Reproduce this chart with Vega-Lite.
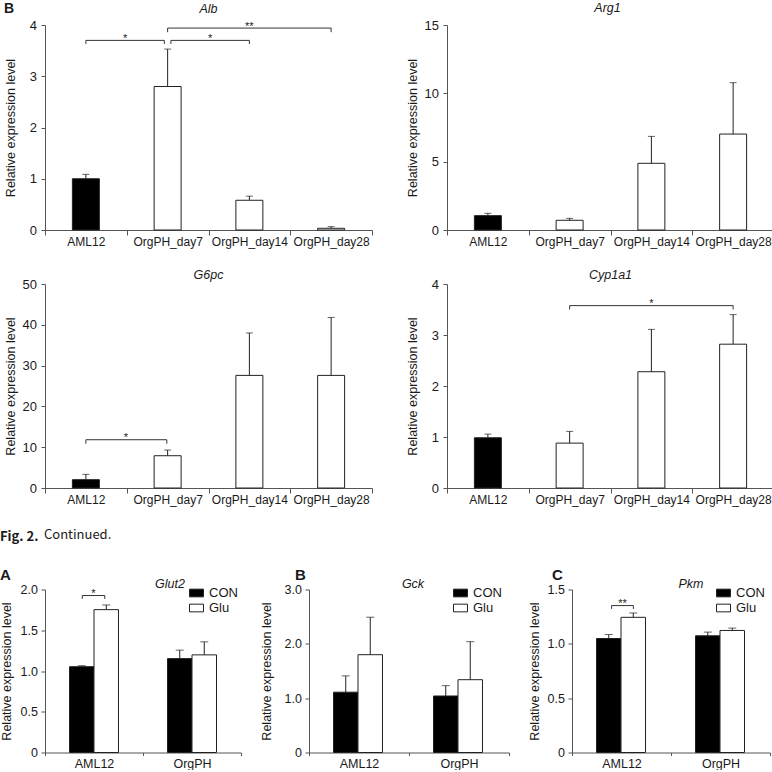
{
  "$schema": "https://vega.github.io/schema/vega-lite/v6.json",
  "padding": {"left": 0, "top": 2, "right": 0, "bottom": 0},
  "background": "white",
  "config": {
    "view": {"stroke": null},
    "font": "Liberation Sans",
    "axis": {"domainColor": "#555", "tickColor": "#555", "labelColor": "#1a1a1a", "titleColor": "#1a1a1a", "labelFont": "Liberation Sans", "titleFont": "Liberation Sans", "grid": false, "titleFontWeight": "normal", "domainWidth": 1, "tickWidth": 1},
    "axisX": {"labelFontSize": 12, "tickSize": 5, "labelPadding": 1, "labelAngle": 0},
    "axisY": {"labelFontSize": 13, "tickSize": 4, "labelPadding": 4.5, "titleFontSize": 12.5},
    "title": {"font": "Liberation Sans", "fontStyle": "italic", "fontWeight": "normal", "fontSize": 12.5, "color": "#1a1a1a", "baseline": "alphabetic"},
    "legend": {"symbolStrokeColor": "#222", "symbolStrokeWidth": 1, "labelFontSize": 13, "labelFont": "Liberation Sans", "labelColor": "#1a1a1a", "rowPadding": -3, "labelOffset": 5}
  },
  "columns": 1,
  "align": "none",
  "spacing": 23.5,
  "resolve": {"scale": {"fill": "independent"}},
  "concat": [
    {
      "spacing": 22,
      "vconcat": [
        {
          "spacing": 33,
          "hconcat": [
            {
              "title": {"text": "B", "fontStyle": "normal", "fontWeight": "bold", "fontSize": 14, "anchor": "start", "frame": "bounds", "offset": -13.6},
              "hconcat": [
                {
                  "width": 327, "height": 205,
                  "title": {"text": "Alb", "offset": 4, "anchor": "middle", "frame": "group"},
                  "resolve": {"scale": {"x": "independent"}},
                  "layer": [
                    {
                      "data": {"values": [
                        {"g": "AML12", "v": 1.0, "e": 1.086},
                        {"g": "OrgPH_day7", "v": 2.8, "e": 3.53},
                        {"g": "OrgPH_day14", "v": 0.58, "e": 0.66},
                        {"g": "OrgPH_day28", "v": 0.033, "e": 0.065}
                      ]},
                      "layer": [
                        {"mark": {"type": "bar", "width": {"band": 0.33}, "stroke": "#222", "strokeWidth": 1},
                         "encoding": {
                           "x": {"field": "g", "type": "nominal", "sort": null, "scale": {"paddingInner": 0, "paddingOuter": 0}, "axis": {"title": null, "tickBand": "extent"}},
                           "y": {"field": "v", "type": "quantitative", "scale": {"domain": [0, 4], "nice": false}, "axis": {"title": "Relative expression level", "values": [0, 1, 2, 3, 4], "format": "d", "titleX": -28}},
                           "fill": {"condition": {"test": "datum.g === 'AML12'", "value": "#000000"}, "value": "#ffffff"}
                         }},
                        {"mark": {"type": "rule", "color": "#222"},
                         "encoding": {"x": {"field": "g", "type": "nominal", "sort": null}, "y": {"field": "v", "type": "quantitative"}, "y2": {"field": "e"}}},
                        {"mark": {"type": "tick", "color": "#222", "thickness": 1, "size": 7},
                         "encoding": {"x": {"field": "g", "type": "nominal", "sort": null}, "y": {"field": "e", "type": "quantitative"}}}
                      ]
                    },
                    {
                      "data": {"values": [
                        {"x1": 0.5, "x2": 1.46, "y": 3.7, "lo": 3.63, "mx": 0.98, "s": "*"},
                        {"x1": 1.54, "x2": 2.5, "y": 3.7, "lo": 3.63, "mx": 2.02, "s": "*"},
                        {"x1": 1.5, "x2": 3.5, "y": 3.94, "lo": 3.86, "mx": 2.5, "s": "**"}
                      ]},
                      "layer": [
                        {"mark": {"type": "rule", "color": "#333"}, "encoding": {"x": {"field": "x1", "type": "quantitative", "scale": {"domain": [0, 4], "nice": false, "zero": false}, "axis": null}, "x2": {"field": "x2"}, "y": {"field": "y", "type": "quantitative"}}},
                        {"mark": {"type": "rule", "color": "#333"}, "encoding": {"x": {"field": "x1", "type": "quantitative", "scale": {"domain": [0, 4], "nice": false, "zero": false}, "axis": null}, "y": {"field": "y", "type": "quantitative"}, "y2": {"field": "lo"}}},
                        {"mark": {"type": "rule", "color": "#333"}, "encoding": {"x": {"field": "x2", "type": "quantitative", "scale": {"domain": [0, 4], "nice": false, "zero": false}, "axis": null}, "y": {"field": "y", "type": "quantitative"}, "y2": {"field": "lo"}}},
                        {"mark": {"type": "text", "fontSize": 11, "baseline": "middle", "dy": -1.5, "color": "#222"}, "encoding": {"x": {"field": "mx", "type": "quantitative", "scale": {"domain": [0, 4], "nice": false, "zero": false}, "axis": null}, "y": {"field": "y", "type": "quantitative"}, "text": {"field": "s"}}}
                      ]
                    }
                  ]
                }
              ]
            },
            {
              "hconcat": [
                {
                  "width": 327, "height": 205,
                  "title": {"text": "Arg1", "offset": 4.5, "anchor": "middle", "frame": "group", "dx": -3},
                  "data": {"values": [
                    {"g": "AML12", "v": 1.05, "e": 1.22},
                    {"g": "OrgPH_day7", "v": 0.71, "e": 0.85},
                    {"g": "OrgPH_day14", "v": 4.88, "e": 6.85},
                    {"g": "OrgPH_day28", "v": 7.02, "e": 10.78}
                  ]},
                  "layer": [
                    {"mark": {"type": "bar", "width": {"band": 0.33}, "stroke": "#222", "strokeWidth": 1},
                     "encoding": {
                       "x": {"field": "g", "type": "nominal", "sort": null, "scale": {"paddingInner": 0, "paddingOuter": 0}, "axis": {"title": null, "tickBand": "extent"}},
                       "y": {"field": "v", "type": "quantitative", "scale": {"domain": [0, 15], "nice": false}, "axis": {"title": "Relative expression level", "values": [0, 5, 10, 15], "format": "d", "titleX": -28}},
                       "fill": {"condition": {"test": "datum.g === 'AML12'", "value": "#000000"}, "value": "#ffffff"}
                     }},
                    {"mark": {"type": "rule", "color": "#222"},
                     "encoding": {"x": {"field": "g", "type": "nominal", "sort": null}, "y": {"field": "v", "type": "quantitative"}, "y2": {"field": "e"}}},
                    {"mark": {"type": "tick", "color": "#222", "thickness": 1, "size": 7},
                     "encoding": {"x": {"field": "g", "type": "nominal", "sort": null}, "y": {"field": "e", "type": "quantitative"}}}
                  ]
                }
              ]
            }
          ]
        },
        {
          "spacing": 33,
          "hconcat": [
            {
              "width": 327, "height": 204,
              "title": {"text": "G6pc", "offset": -3.5, "anchor": "middle", "frame": "group"},
              "resolve": {"scale": {"x": "independent"}},
              "layer": [
                {
                  "data": {"values": [
                    {"g": "AML12", "v": 2.04, "e": 3.34},
                    {"g": "OrgPH_day7", "v": 7.91, "e": 9.3},
                    {"g": "OrgPH_day14", "v": 27.6, "e": 38.0},
                    {"g": "OrgPH_day28", "v": 27.6, "e": 41.8}
                  ]},
                  "layer": [
                    {"mark": {"type": "bar", "width": {"band": 0.33}, "stroke": "#222", "strokeWidth": 1},
                     "encoding": {
                       "x": {"field": "g", "type": "nominal", "sort": null, "scale": {"paddingInner": 0, "paddingOuter": 0}, "axis": {"title": null, "tickBand": "extent"}},
                       "y": {"field": "v", "type": "quantitative", "scale": {"domain": [0, 50], "nice": false}, "axis": {"title": "Relative expression level", "values": [0, 10, 20, 30, 40, 50], "format": "d", "titleX": -28}},
                       "fill": {"condition": {"test": "datum.g === 'AML12'", "value": "#000000"}, "value": "#ffffff"}
                     }},
                    {"mark": {"type": "rule", "color": "#222"},
                     "encoding": {"x": {"field": "g", "type": "nominal", "sort": null}, "y": {"field": "v", "type": "quantitative"}, "y2": {"field": "e"}}},
                    {"mark": {"type": "tick", "color": "#222", "thickness": 1, "size": 7},
                     "encoding": {"x": {"field": "g", "type": "nominal", "sort": null}, "y": {"field": "e", "type": "quantitative"}}}
                  ]
                },
                {
                  "data": {"values": [
                    {"x1": 0.5, "x2": 1.49, "y": 11.83, "lo": 10.85, "mx": 0.99, "s": "*"}
                  ]},
                  "layer": [
                    {"mark": {"type": "rule", "color": "#333"}, "encoding": {"x": {"field": "x1", "type": "quantitative", "scale": {"domain": [0, 4], "nice": false, "zero": false}, "axis": null}, "x2": {"field": "x2"}, "y": {"field": "y", "type": "quantitative"}}},
                    {"mark": {"type": "rule", "color": "#333"}, "encoding": {"x": {"field": "x1", "type": "quantitative", "scale": {"domain": [0, 4], "nice": false, "zero": false}, "axis": null}, "y": {"field": "y", "type": "quantitative"}, "y2": {"field": "lo"}}},
                    {"mark": {"type": "rule", "color": "#333"}, "encoding": {"x": {"field": "x2", "type": "quantitative", "scale": {"domain": [0, 4], "nice": false, "zero": false}, "axis": null}, "y": {"field": "y", "type": "quantitative"}, "y2": {"field": "lo"}}},
                    {"mark": {"type": "text", "fontSize": 11, "baseline": "middle", "dy": -1.5, "color": "#222"}, "encoding": {"x": {"field": "mx", "type": "quantitative", "scale": {"domain": [0, 4], "nice": false, "zero": false}, "axis": null}, "y": {"field": "y", "type": "quantitative"}, "text": {"field": "s"}}}
                  ]
                }
              ]
            },
            {
              "hconcat": [
                {
                  "width": 327, "height": 204,
                  "title": {"text": "Cyp1a1", "offset": -3.5, "anchor": "middle", "frame": "group"},
                  "resolve": {"scale": {"x": "independent"}},
                  "layer": [
                    {
                      "data": {"values": [
                        {"g": "AML12", "v": 0.985, "e": 1.057},
                        {"g": "OrgPH_day7", "v": 0.88, "e": 1.11},
                        {"g": "OrgPH_day14", "v": 2.28, "e": 3.11},
                        {"g": "OrgPH_day28", "v": 2.82, "e": 3.4}
                      ]},
                      "layer": [
                        {"mark": {"type": "bar", "width": {"band": 0.33}, "stroke": "#222", "strokeWidth": 1},
                         "encoding": {
                           "x": {"field": "g", "type": "nominal", "sort": null, "scale": {"paddingInner": 0, "paddingOuter": 0}, "axis": {"title": null, "tickBand": "extent"}},
                           "y": {"field": "v", "type": "quantitative", "scale": {"domain": [0, 4], "nice": false}, "axis": {"title": "Relative expression level", "values": [0, 1, 2, 3, 4], "format": "d", "titleX": -28}},
                           "fill": {"condition": {"test": "datum.g === 'AML12'", "value": "#000000"}, "value": "#ffffff"}
                         }},
                        {"mark": {"type": "rule", "color": "#222"},
                         "encoding": {"x": {"field": "g", "type": "nominal", "sort": null}, "y": {"field": "v", "type": "quantitative"}, "y2": {"field": "e"}}},
                        {"mark": {"type": "tick", "color": "#222", "thickness": 1, "size": 7},
                         "encoding": {"x": {"field": "g", "type": "nominal", "sort": null}, "y": {"field": "e", "type": "quantitative"}}}
                      ]
                    },
                    {
                      "data": {"values": [
                        {"x1": 1.5, "x2": 3.5, "y": 3.576, "lo": 3.5, "mx": 2.5, "s": "*"}
                      ]},
                      "layer": [
                        {"mark": {"type": "rule", "color": "#333"}, "encoding": {"x": {"field": "x1", "type": "quantitative", "scale": {"domain": [0, 4], "nice": false, "zero": false}, "axis": null}, "x2": {"field": "x2"}, "y": {"field": "y", "type": "quantitative"}}},
                        {"mark": {"type": "rule", "color": "#333"}, "encoding": {"x": {"field": "x1", "type": "quantitative", "scale": {"domain": [0, 4], "nice": false, "zero": false}, "axis": null}, "y": {"field": "y", "type": "quantitative"}, "y2": {"field": "lo"}}},
                        {"mark": {"type": "rule", "color": "#333"}, "encoding": {"x": {"field": "x2", "type": "quantitative", "scale": {"domain": [0, 4], "nice": false, "zero": false}, "axis": null}, "y": {"field": "y", "type": "quantitative"}, "y2": {"field": "lo"}}},
                        {"mark": {"type": "text", "fontSize": 11, "baseline": "middle", "dy": -1.5, "color": "#222"}, "encoding": {"x": {"field": "mx", "type": "quantitative", "scale": {"domain": [0, 4], "nice": false, "zero": false}, "axis": null}, "y": {"field": "y", "type": "quantitative"}, "text": {"field": "s"}}}
                      ]
                    }
                  ]
                }
              ]
            }
          ]
        }
      ]
    },
    {
      "title": {"text": "Fig. 2.", "font": "Noto Sans CJK KR", "fontStyle": "normal", "fontWeight": "bold", "fontSize": 13, "anchor": "start", "frame": "bounds", "offset": -15.4},
      "resolve": {"scale": {"fill": "independent"}},
      "vconcat": [
        {
          "title": {"text": "Continued.", "font": "Noto Sans CJK KR", "fontStyle": "normal", "fontWeight": "normal", "fontSize": 13, "anchor": "start", "frame": "bounds", "offset": 26, "dx": 44},
          "spacing": 18,
          "resolve": {"scale": {"fill": "independent"}},
          "hconcat": [
            {
              "title": {"text": "A", "fontStyle": "normal", "fontWeight": "bold", "fontSize": 15, "anchor": "start", "frame": "bounds", "offset": -5},
              "resolve": {"scale": {"fill": "independent"}},
              "hconcat": [
                {
                  "width": 196, "height": 163,
                  "title": {"text": "Glut2", "offset": -7, "dx": 27, "anchor": "middle", "frame": "group"},
                  "resolve": {"scale": {"x": "independent"}},
                  "layer": [
                    {
                      "data": {"values": [
                        {"g": "AML12", "t": "CON", "v": 1.053, "e": 1.065},
                        {"g": "AML12", "t": "Glu", "v": 1.753, "e": 1.81},
                        {"g": "OrgPH", "t": "CON", "v": 1.152, "e": 1.256},
                        {"g": "OrgPH", "t": "Glu", "v": 1.198, "e": 1.358}
                      ]},
                      "layer": [
                        {"mark": {"type": "bar", "stroke": "#222", "strokeWidth": 1},
                         "encoding": {
                           "x": {"field": "g", "type": "nominal", "sort": null, "scale": {"paddingInner": 0, "paddingOuter": 0}, "axis": {"title": null, "tickBand": "extent", "tickSize": 3, "labelPadding": 2, "labelFontSize": 12.5}},
                           "xOffset": {"field": "t", "type": "nominal", "sort": null, "scale": {"paddingInner": 0, "paddingOuter": 1.23}},
                           "y": {"field": "v", "type": "quantitative", "scale": {"domain": [0, 2], "nice": false}, "axis": {"title": "Relative expression level", "values": [0, 0.5, 1, 1.5, 2], "labelExpr": "datum.value === 0 ? '0' : format(datum.value, '.1f')", "titleX": -32, "labelFontSize": 12.5, "labelPadding": 3.5}},
                           "fill": {"field": "t", "type": "nominal", "sort": null, "scale": {"domain": ["CON", "Glu"], "range": ["#000000", "#ffffff"]}, "legend": {"title": null, "orient": "none", "legendX": 144, "legendY": -4, "symbolType": "M-1,-0.55H1V0.55H-1Z", "symbolSize": 196}}
                         }},
                        {"mark": {"type": "rule", "color": "#222"},
                         "encoding": {"x": {"field": "g", "type": "nominal", "sort": null}, "xOffset": {"field": "t", "type": "nominal", "sort": null}, "y": {"field": "v", "type": "quantitative"}, "y2": {"field": "e"}}},
                        {"mark": {"type": "tick", "color": "#222", "thickness": 1, "size": 8},
                         "encoding": {"x": {"field": "g", "type": "nominal", "sort": null}, "xOffset": {"field": "t", "type": "nominal", "sort": null}, "y": {"field": "e", "type": "quantitative"}}}
                      ]
                    },
                    {
                      "data": {"values": [
                        {"x1": 0.38, "x2": 0.61, "y": 1.926, "lo": 1.885, "mx": 0.495, "s": "*"}
                      ]},
                      "layer": [
                        {"mark": {"type": "rule", "color": "#333"}, "encoding": {"x": {"field": "x1", "type": "quantitative", "scale": {"domain": [0, 2], "nice": false, "zero": false}, "axis": null}, "x2": {"field": "x2"}, "y": {"field": "y", "type": "quantitative"}}},
                        {"mark": {"type": "rule", "color": "#333"}, "encoding": {"x": {"field": "x1", "type": "quantitative", "scale": {"domain": [0, 2], "nice": false, "zero": false}, "axis": null}, "y": {"field": "y", "type": "quantitative"}, "y2": {"field": "lo"}}},
                        {"mark": {"type": "rule", "color": "#333"}, "encoding": {"x": {"field": "x2", "type": "quantitative", "scale": {"domain": [0, 2], "nice": false, "zero": false}, "axis": null}, "y": {"field": "y", "type": "quantitative"}, "y2": {"field": "lo"}}},
                        {"mark": {"type": "text", "fontSize": 11, "baseline": "middle", "dy": -1.5, "color": "#222"}, "encoding": {"x": {"field": "mx", "type": "quantitative", "scale": {"domain": [0, 2], "nice": false, "zero": false}, "axis": null}, "y": {"field": "y", "type": "quantitative"}, "text": {"field": "s"}}}
                      ]
                    }
                  ]
                }
              ]
            },
            {
              "title": {"text": "B", "fontStyle": "normal", "fontWeight": "bold", "fontSize": 15, "anchor": "start", "frame": "bounds", "offset": -5, "dx": 35},
              "resolve": {"scale": {"fill": "independent"}},
              "hconcat": [
                {
                  "width": 200, "height": 163,
                  "title": {"text": "Gck", "offset": -7, "dx": 4, "anchor": "middle", "frame": "group"},
                  "data": {"values": [
                    {"g": "AML12", "t": "CON", "v": 1.11, "e": 1.41},
                    {"g": "AML12", "t": "Glu", "v": 1.8, "e": 2.49},
                    {"g": "OrgPH", "t": "CON", "v": 1.04, "e": 1.23},
                    {"g": "OrgPH", "t": "Glu", "v": 1.34, "e": 2.04}
                  ]},
                  "layer": [
                    {"mark": {"type": "bar", "stroke": "#222", "strokeWidth": 1},
                     "encoding": {
                       "x": {"field": "g", "type": "nominal", "sort": null, "scale": {"paddingInner": 0, "paddingOuter": 0}, "axis": {"title": null, "tickBand": "extent", "tickSize": 3, "labelPadding": 2, "labelFontSize": 12.5}},
                       "xOffset": {"field": "t", "type": "nominal", "sort": null, "scale": {"paddingInner": 0, "paddingOuter": 1.23}},
                       "y": {"field": "v", "type": "quantitative", "scale": {"domain": [0, 3], "nice": false}, "axis": {"title": "Relative expression level", "values": [0, 1, 2, 3], "labelExpr": "datum.value === 0 ? '0' : format(datum.value, '.1f')", "titleX": -36, "labelFontSize": 12.5, "labelPadding": 3.5}},
                       "fill": {"field": "t", "type": "nominal", "sort": null, "scale": {"domain": ["CON", "Glu"], "range": ["#000000", "#ffffff"]}, "legend": {"title": null, "orient": "none", "legendX": 144, "legendY": -4, "symbolType": "M-1,-0.55H1V0.55H-1Z", "symbolSize": 196}}
                     }},
                    {"mark": {"type": "rule", "color": "#222"},
                     "encoding": {"x": {"field": "g", "type": "nominal", "sort": null}, "xOffset": {"field": "t", "type": "nominal", "sort": null}, "y": {"field": "v", "type": "quantitative"}, "y2": {"field": "e"}}},
                    {"mark": {"type": "tick", "color": "#222", "thickness": 1, "size": 8},
                     "encoding": {"x": {"field": "g", "type": "nominal", "sort": null}, "xOffset": {"field": "t", "type": "nominal", "sort": null}, "y": {"field": "e", "type": "quantitative"}}}
                  ]
                }
              ]
            },
            {
              "title": {"text": "C", "fontStyle": "normal", "fontWeight": "bold", "fontSize": 15, "anchor": "start", "frame": "bounds", "offset": -5, "dx": 24},
              "resolve": {"scale": {"fill": "independent"}},
              "hconcat": [
                {
                  "width": 198, "height": 163,
                  "title": {"text": "Pkm", "offset": -7, "dx": 20, "anchor": "middle", "frame": "group"},
                  "resolve": {"scale": {"x": "independent"}},
                  "layer": [
                    {
                      "data": {"values": [
                        {"g": "AML12", "t": "CON", "v": 1.049, "e": 1.086},
                        {"g": "AML12", "t": "Glu", "v": 1.244, "e": 1.284},
                        {"g": "OrgPH", "t": "CON", "v": 1.074, "e": 1.108},
                        {"g": "OrgPH", "t": "Glu", "v": 1.123, "e": 1.145}
                      ]},
                      "layer": [
                        {"mark": {"type": "bar", "stroke": "#222", "strokeWidth": 1},
                         "encoding": {
                           "x": {"field": "g", "type": "nominal", "sort": null, "scale": {"paddingInner": 0, "paddingOuter": 0}, "axis": {"title": null, "tickBand": "extent", "tickSize": 3, "labelPadding": 2, "labelFontSize": 12.5}},
                           "xOffset": {"field": "t", "type": "nominal", "sort": null, "scale": {"paddingInner": 0, "paddingOuter": 1.23}},
                           "y": {"field": "v", "type": "quantitative", "scale": {"domain": [0, 1.5], "nice": false}, "axis": {"title": "Relative expression level", "values": [0, 0.5, 1, 1.5], "labelExpr": "datum.value === 0 ? '0' : format(datum.value, '.1f')", "titleX": -31, "labelFontSize": 12.5, "labelPadding": 3.5}},
                           "fill": {"field": "t", "type": "nominal", "sort": null, "scale": {"domain": ["CON", "Glu"], "range": ["#000000", "#ffffff"]}, "legend": {"title": null, "orient": "none", "legendX": 144, "legendY": -4, "symbolType": "M-1,-0.55H1V0.55H-1Z", "symbolSize": 196}}
                         }},
                        {"mark": {"type": "rule", "color": "#222"},
                         "encoding": {"x": {"field": "g", "type": "nominal", "sort": null}, "xOffset": {"field": "t", "type": "nominal", "sort": null}, "y": {"field": "v", "type": "quantitative"}, "y2": {"field": "e"}}},
                        {"mark": {"type": "tick", "color": "#222", "thickness": 1, "size": 8},
                         "encoding": {"x": {"field": "g", "type": "nominal", "sort": null}, "xOffset": {"field": "t", "type": "nominal", "sort": null}, "y": {"field": "e", "type": "quantitative"}}}
                      ]
                    },
                    {
                      "data": {"values": [
                        {"x1": 0.4, "x2": 0.62, "y": 1.352, "lo": 1.321, "mx": 0.51, "s": "**"}
                      ]},
                      "layer": [
                        {"mark": {"type": "rule", "color": "#333"}, "encoding": {"x": {"field": "x1", "type": "quantitative", "scale": {"domain": [0, 2], "nice": false, "zero": false}, "axis": null}, "x2": {"field": "x2"}, "y": {"field": "y", "type": "quantitative"}}},
                        {"mark": {"type": "rule", "color": "#333"}, "encoding": {"x": {"field": "x1", "type": "quantitative", "scale": {"domain": [0, 2], "nice": false, "zero": false}, "axis": null}, "y": {"field": "y", "type": "quantitative"}, "y2": {"field": "lo"}}},
                        {"mark": {"type": "rule", "color": "#333"}, "encoding": {"x": {"field": "x2", "type": "quantitative", "scale": {"domain": [0, 2], "nice": false, "zero": false}, "axis": null}, "y": {"field": "y", "type": "quantitative"}, "y2": {"field": "lo"}}},
                        {"mark": {"type": "text", "fontSize": 11, "baseline": "middle", "dy": -1.5, "color": "#222"}, "encoding": {"x": {"field": "mx", "type": "quantitative", "scale": {"domain": [0, 2], "nice": false, "zero": false}, "axis": null}, "y": {"field": "y", "type": "quantitative"}, "text": {"field": "s"}}}
                      ]
                    }
                  ]
                }
              ]
            }
          ]
        }
      ]
    }
  ]
}
